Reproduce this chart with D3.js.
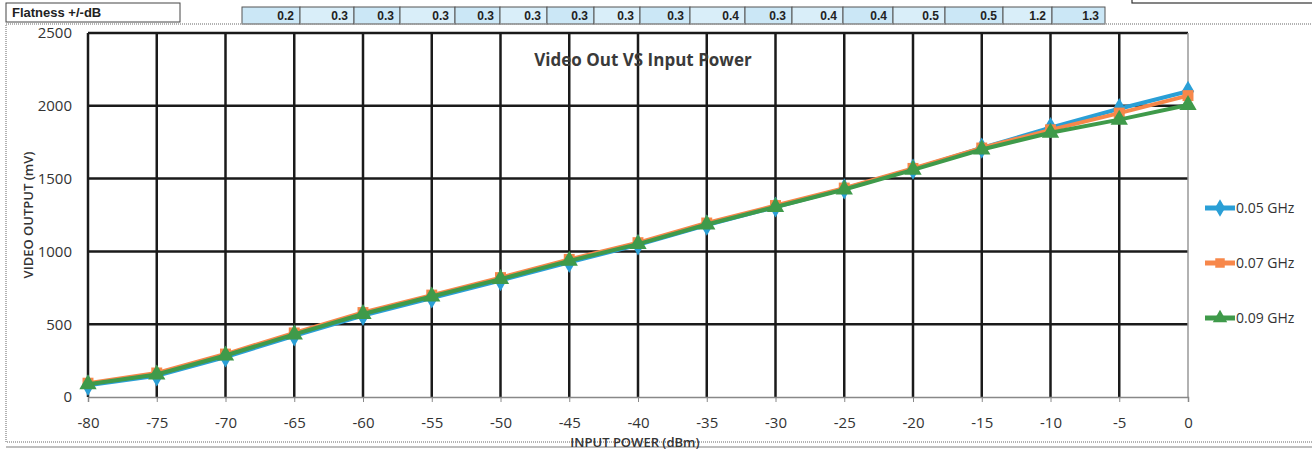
<!DOCTYPE html>
<html>
<head>
<meta charset="utf-8">
<script src="https://cdn.jsdelivr.net/npm/d3@7"></script>
<style>
  body { margin: 0; background: #fff; }
  svg { display: block; font-family: "Open Sans", "Noto Sans", sans-serif; }
</style>
</head>
<body>
<svg id="chart" width="1312" height="450"></svg>
<script>
// input power (dBm)
const inputPower = [-80, -75, -70, -65, -60, -55, -50, -45, -40, -35, -30, -25, -20, -15, -10, -5, 0];
// video output (mV) per frequency
const out005 = [80, 145, 275, 420, 560, 680, 800, 925, 1045, 1180, 1305, 1430, 1565, 1710, 1850, 1980, 2100];
const out007 = [95, 165, 295, 440, 580, 700, 820, 945, 1060, 1195, 1315, 1435, 1570, 1710, 1835, 1950, 2070];
const out009 = [88, 155, 285, 430, 570, 690, 810, 935, 1050, 1185, 1305, 1425, 1560, 1700, 1815, 1905, 2005];
const seriesNames = ["0.05 GHz", "0.07 GHz", "0.09 GHz"];
// flatness row above the chart
const flatness = ["0.2", "0.3", "0.3", "0.3", "0.3", "0.3", "0.3", "0.3", "0.3", "0.4", "0.3", "0.4", "0.4", "0.5", "0.5", "1.2", "1.3"];
const flatCellEdges = [242, 300, 354, 400, 455, 500, 547, 594, 640, 690, 745, 792, 843, 893, 945, 1003, 1052, 1105];
const yTicks = [0, 500, 1000, 1500, 2000, 2500];

const svg = d3.select("#chart");

const x = d3.scaleLinear().domain([-80, 0]).range([88, 1188]);
const y = d3.scaleLinear().domain([0, 2500]).range([397, 33]);

// spreadsheet strip at the top
svg.append("rect").attr("x", 6).attr("y", 3).attr("width", 174).attr("height", 19)
  .attr("fill", "#fff").attr("stroke", "#444").attr("stroke-width", 1);
svg.append("text").attr("x", 12).attr("y", 17).text("Flatness +/-dB")
  .attr("font-family", "Liberation Sans, Arial, sans-serif")
  .attr("font-size", 13).attr("font-weight", "bold").attr("fill", "#222");

const cells = svg.append("g");
flatness.forEach((v, i) => {
  const x0 = flatCellEdges[i], x1 = flatCellEdges[i + 1];
  cells.append("rect").attr("x", x0).attr("y", 7).attr("width", x1 - x0).attr("height", 17)
    .attr("fill", i % 2 ? "#d9eef9" : "#cbe7f6").attr("stroke", "#555").attr("stroke-width", 1);
  cells.append("text").attr("x", x1 - 6).attr("y", 20).attr("text-anchor", "end")
    .attr("font-family", "Liberation Sans, Arial, sans-serif")
    .attr("font-size", 12).attr("font-weight", "bold").attr("fill", "#222").text(v);
});

// clipped box on the top right (its label is off the page)
svg.append("rect").attr("x", 1132).attr("y", -20).attr("width", 190).attr("height", 23)
  .attr("fill", "#fff").attr("stroke", "#333").attr("stroke-width", 1.2);

// chart frame
svg.append("rect").attr("x", 6).attr("y", 24).attr("width", 1310).attr("height", 418)
  .attr("fill", "none").attr("stroke", "#999").attr("stroke-width", 1.5).attr("stroke-dasharray", "1,1");
svg.append("line").attr("x1", 6).attr("x2", 1312).attr("y1", 447).attr("y2", 447)
  .attr("stroke", "#aaa").attr("stroke-width", 1.5);

// grid
const grid = svg.append("g");
grid.selectAll("line.h").data(yTicks.filter(d => d > 0)).join("line")
  .attr("x1", x(-80)).attr("x2", x(0)).attr("y1", d => y(d)).attr("y2", d => y(d))
  .attr("stroke", "#1a1a1a").attr("stroke-width", 2.5);
grid.selectAll("line.v").data(inputPower.filter(d => d < 0)).join("line")
  .attr("x1", d => x(d)).attr("x2", d => x(d)).attr("y1", y(2500)).attr("y2", y(0))
  .attr("stroke", "#1a1a1a").attr("stroke-width", 2.5);
grid.append("line").attr("x1", x(0)).attr("x2", x(0)).attr("y1", y(2500)).attr("y2", y(0))
  .attr("stroke", "#999").attr("stroke-width", 1.5);

// axes
const xAxis = svg.append("g").attr("transform", `translate(0,${y(0)})`)
  .call(d3.axisBottom(x).tickValues(inputPower).tickSize(5).tickFormat(d => String(d)));
xAxis.select(".domain").attr("stroke", "#888").attr("stroke-width", 1.5);
xAxis.selectAll(".tick line").attr("stroke", "#888");
xAxis.selectAll(".tick text").attr("font-size", 15).attr("fill", "#333").attr("dy", "1.5em")
  .attr("font-family", "Open Sans, sans-serif");

const yAxis = svg.append("g").attr("transform", `translate(${x(-80)},0)`)
  .call(d3.axisLeft(y).tickValues(yTicks).tickSize(0).tickPadding(16).tickFormat(d => String(d)));
yAxis.select(".domain").remove();
yAxis.selectAll(".tick text").attr("font-size", 15).attr("fill", "#333")
  .attr("font-family", "Open Sans, sans-serif");

// titles
svg.append("text").attr("x", 643).attr("y", 66).attr("text-anchor", "middle")
  .attr("font-size", 17).attr("font-weight", "bold").attr("fill", "#3a3a3a")
  .text("Video Out VS Input Power");
svg.append("text").attr("transform", `translate(33,${y(1250)}) rotate(-90)`)
  .attr("text-anchor", "middle").attr("font-size", 13).attr("font-weight", 600).attr("fill", "#333")
  .text("VIDEO OUTPUT (mV)");
svg.append("text").attr("x", 635).attr("y", 447).attr("text-anchor", "middle")
  .attr("font-size", 13).attr("font-weight", 600).attr("fill", "#333")
  .text("INPUT POWER (dBm)");

// series
const colors = ["#2a9fd6", "#f7874a", "#3f9a4a"];
const seriesData = [out005, out007, out009];
const markerShapes = [d3.symbolDiamond, d3.symbolSquare, d3.symbolTriangle];
const markerSizes = [130, 120, 130];

const line = d3.line().x(d => x(d[0])).y(d => y(d[1]));

seriesData.forEach((vals, si) => {
  const pts = inputPower.map((p, i) => [p, vals[i]]);
  svg.append("path").datum(pts).attr("d", line)
    .attr("fill", "none").attr("stroke", colors[si]).attr("stroke-width", 4);
  svg.append("g").selectAll("path").data(pts).join("path")
    .attr("transform", d => `translate(${x(d[0])},${y(d[1])})`)
    .attr("d", d3.symbol().type(markerShapes[si]).size(markerSizes[si]))
    .attr("fill", colors[si]);
});

// legend
const legend = svg.append("g");
seriesNames.forEach((name, i) => {
  const ly = 208 + i * 55;
  legend.append("line").attr("x1", 1205).attr("x2", 1235).attr("y1", ly).attr("y2", ly)
    .attr("stroke", colors[i]).attr("stroke-width", 5);
  legend.append("path").attr("transform", `translate(1220,${ly})`)
    .attr("d", d3.symbol().type(markerShapes[i]).size(90))
    .attr("fill", colors[i]);
  legend.append("text").attr("x", 1236).attr("y", ly + 5).attr("font-size", 14).attr("fill", "#333")
    .text(name);
});
</script>
</body>
</html>
